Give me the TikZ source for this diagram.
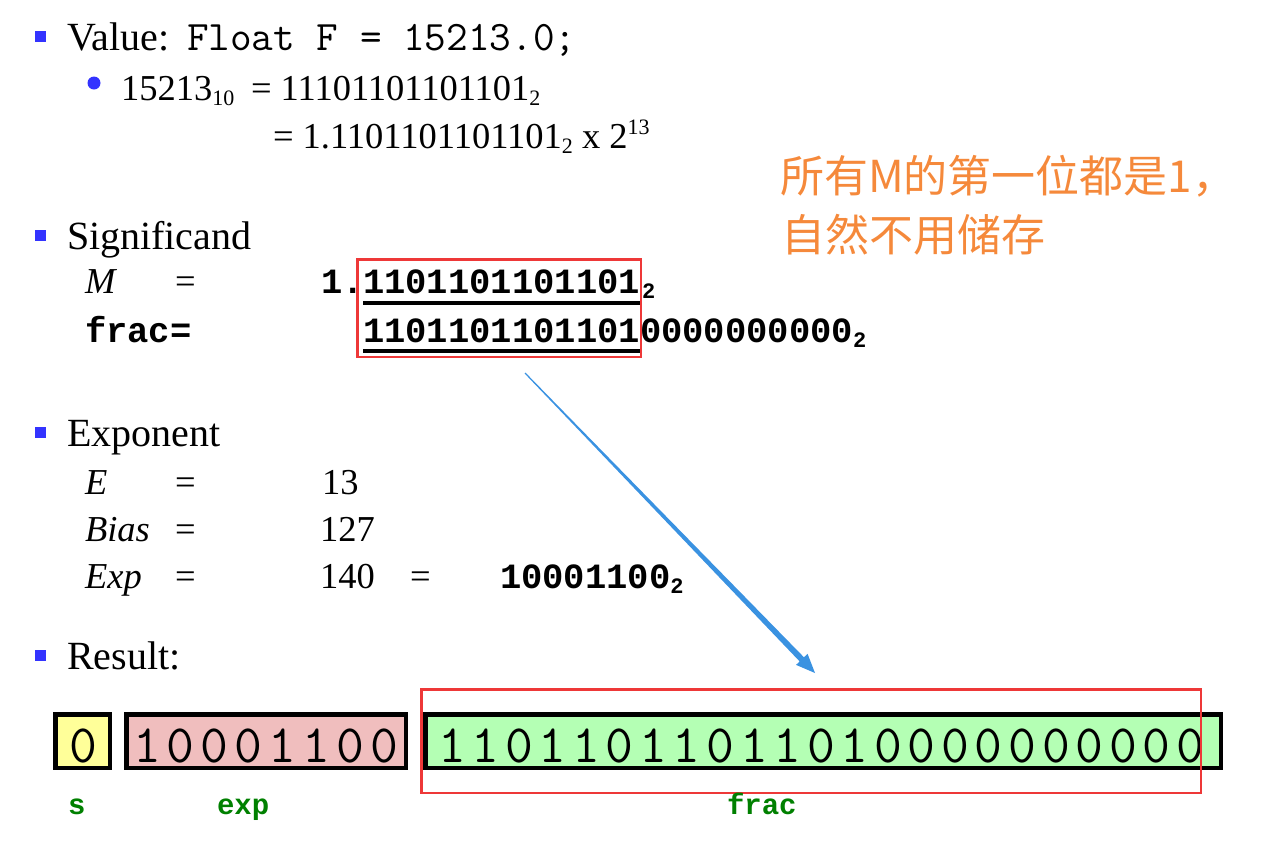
\documentclass[tikz,border=0pt]{standalone}
\usepackage{fontspec}
\setmainfont{Liberation Serif}
\newfontfamily\libmono{Liberation Mono}
\newfontfamily\cjkfont{Noto Sans CJK SC}
\usetikzlibrary{calc}
\definecolor{bulletblue}{RGB}{51,51,255}
\definecolor{noteorange}{RGB}{245,137,59}
\definecolor{arrowblue}{RGB}{58,146,225}
\definecolor{framered}{RGB}{238,56,56}
\definecolor{syellow}{RGB}{255,255,153}
\definecolor{epink}{RGB}{240,190,190}
\definecolor{fgreen}{RGB}{180,255,180}
\definecolor{lblgreen}{RGB}{0,128,0}
\newcommand\fs[1]{\fontsize{#1}{#1}\selectfont}
\newcommand\sbs[1]{\raisebox{-5pt}{\fs{22}#1}}
\newcommand\sps[1]{\raisebox{14pt}{\fs{22}#1}}
\newcommand\msbs[1]{\raisebox{-5pt}{\fs{22}\libmono\bfseries #1}}
\begin{document}
\begin{tikzpicture}[x=1pt,y=-1pt,
  txt/.style={anchor=base west, inner sep=0pt, outer sep=0pt, font=\fs{36.5}},
  head/.style={txt, font=\fs{40}},
  mono/.style={txt, font=\fs{42}\ttfamily},
  bmono/.style={txt, font=\fs{35.5}\libmono\bfseries},
  lbl/.style={txt, font=\fs{29}\libmono\bfseries, text=lblgreen},
  note/.style={txt, font=\fs{44}\cjkfont, text=noteorange},
  sq/.style={fill=bulletblue},
  fieldbox/.style={draw=black, line width=4.5pt},
  boxdigit/.style={anchor=base, inner sep=0pt, font=\fs{54}\ttfamily},
  redframe/.style={draw=framered, line width=2.5pt},
  uline/.style={line width=4pt, black}]
\useasboundingbox (0,0) rectangle (1268,841);

% bullets
\fill[sq] (35,31) rectangle (46,42);
\fill[bulletblue] (94,83) circle (6.5);
\fill[sq] (35,230) rectangle (46,241);
\fill[sq] (35,427) rectangle (46,438);
\fill[sq] (35,650) rectangle (46,661);

% Value
\node[head] (value) at (67,50) {Value:};
\node[mono] (floatf) at (187,50) {Float F = 15213.0;};
\node[txt] (dec) at (121,100) {15213\sbs{10}};
\node[txt] (bin) at (251,100) {= 11101101101101\sbs{2}};
\node[txt] (norm) at (273,148) {= 1.1101101101101\sbs{2} x 2\sps{13}};

% Significand
\node[head] (signif) at (67,249) {Significand};
\node[txt] (mlab) at (85,293) {\itshape M};
\node[txt] (meq) at (175,293) {=};
\node[bmono] (mone) at (321,293) {1.};
\node[bmono] (mbits) at (363,293) {1101101101101};
\node[txt] (msub) at (642,293) {\msbs{2}};
\node[bmono] (fraclab) at (85,342) {frac=};
\node[bmono] (fbits) at (363,342) {1101101101101};
\node[bmono] (fzeros) at (640,342) {0000000000\msbs{2}};
\coordinate (u1a) at (363,303); \coordinate (u1b) at (640,303);
\coordinate (u2a) at (363,351); \coordinate (u2b) at (640,351);
\draw[uline] (u1a) -- (u1b);
\draw[uline] (u2a) -- (u2b);
\draw[redframe] (357.25,259.25) rectangle (640.75,356.75);

% note
\node[note] (note1) at (780,192) {所有M的第一位都是1，};
\node[note] (note2) at (781,251) {自然不用储存};

% Exponent
\node[head] (expo) at (67,446) {Exponent};
\node[txt] (elab) at (85,494) {\itshape E};
\node[txt] (eeq) at (175,494) {=};
\node[txt] (eval) at (322,494) {13};
\node[txt] (blab) at (85,541) {\itshape Bias};
\node[txt] (beq) at (175,541) {=};
\node[txt] (bval) at (320,541) {127};
\node[txt] (xlab) at (85,588) {\itshape Exp};
\node[txt] (xeq) at (175,588) {=};
\node[txt] (xval) at (320,588) {140};
\node[txt] (xeq2) at (410,588) {=};
\node[bmono] (xbits) at (500,588) {10001100\msbs{2}};

% Result
\node[head] (result) at (67,669) {Result:};

% fields
\draw[fieldbox, fill=syellow] (55.25,714.25) rectangle (109.75,767.75);
\draw[fieldbox, fill=epink] (126.25,714.25) rectangle (405.75,767.75);
\draw[fieldbox, fill=fgreen] (425.25,714.25) rectangle (1220.75,767.75);
\node[boxdigit] (s1) at (83,762) {0};
\foreach \d [count=\i] in {1,0,0,0,1,1,0,0}
  \node[boxdigit] (e\i) at ({147+(\i-1)*33.9},762) {\d};
\foreach \d [count=\i] in {1,1,0,1,1,0,1,1,0,1,1,0,1,0,0,0,0,0,0,0,0,0,0}
  \node[boxdigit] (f\i) at ({452+(\i-1)*33.55},762) {\d};
\draw[redframe] (421.25,689.25) rectangle (1200.75,792.75);

\node[lbl] (slab) at (68,814) {s};
\node[lbl] (explab) at (217,814) {exp};
\node[lbl] (fraclbl) at (727,814) {frac};

% arrow
\coordinate (arrS) at (525,373);
\coordinate (arrE) at (815,673);
\coordinate (arrC) at ($(arrE)!19pt!(arrS)$);
\fill[arrowblue] ($(arrS)!0.6pt!90:(arrE)$) -- ($(arrC)!3pt!90:(arrE)$)
  -- ($(arrC)!8pt!90:(arrE)$) -- (arrE) -- ($(arrC)!8pt!-90:(arrE)$)
  -- ($(arrC)!3pt!-90:(arrE)$) -- ($(arrS)!0.6pt!-90:(arrE)$) -- cycle;
\end{tikzpicture}
\end{document}
